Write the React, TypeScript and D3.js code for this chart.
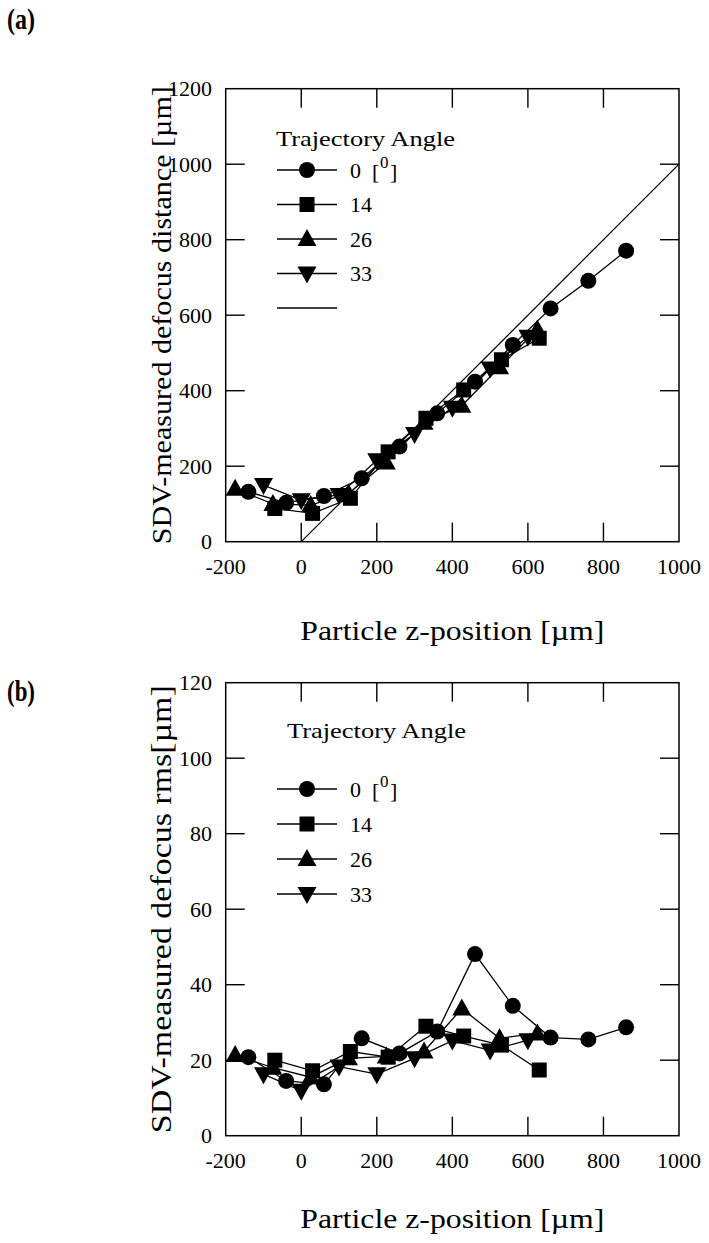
import React from 'react';
import * as d3 from 'd3';

// ---------- data ----------
const xTicks = [-200, 0, 200, 400, 600, 800, 1000];
const yTicksA = [0, 200, 400, 600, 800, 1000, 1200];
const yTicksB = [0, 20, 40, 60, 80, 100, 120];
const angleLabels = ['0', '14', '26', '33'];

// panel (a): SDV-measured defocus distance
const xA0 = [-140, -40, 60, 160, 260, 360, 460, 560, 660, 760, 860];
const yA0 = [132, 103, 121, 168, 252, 340, 424, 521, 618, 691, 771];
const xA14 = [-70, 30, 130, 230, 330, 430, 530, 630];
const yA14 = [88, 75, 115, 238, 327, 402, 482, 539];
const xA26 = [-175, -75, 25, 125, 225, 325, 425, 525, 625];
const yA26 = [140, 100, 97, 128, 210, 315, 360, 462, 562];
const xA33 = [-100, 0, 100, 200, 300, 400, 500, 600];
const yA33 = [150, 110, 124, 216, 285, 355, 459, 543];
const idealLine = [0, 1000];

// panel (b): SDV-measured defocus rms
const xB0 = [-140, -40, 60, 160, 260, 360, 460, 560, 660, 760, 860];
const yB0 = [20.8, 14.5, 13.6, 25.8, 21.8, 27.6, 48.1, 34.4, 26.0, 25.5, 28.7];
const xB14 = [-70, 30, 130, 230, 330, 430, 530, 630];
const yB14 = [20, 17.2, 22.3, 20.8, 29, 26.4, 24, 17.4];
const xB26 = [-175, -75, 25, 125, 225, 325, 425, 525, 625];
const yB26 = [21.4, 18, 15.5, 20.5, 21, 22.3, 33.7, 25.8, 27.1];
const xB33 = [-100, 0, 100, 200, 300, 400, 500, 600];
const yB33 = [16.3, 11.9, 18.3, 16.3, 20.5, 25.2, 22.6, 25.3];

const markerKinds = ['circle', 'square', 'up', 'down'];

const FONT = '"Liberation Serif", "Times New Roman", serif';
const W = 709;
const H = 1243;

const zip = (xs: number[], ys: number[]) => xs.map((x, i) => [x, ys[i]] as [number, number]);

function Marker({ kind, x, y }: { kind: string; x: number; y: number }) {
  if (kind === 'circle') return <circle cx={x} cy={y} r={8} fill="#000" />;
  if (kind === 'square') return <rect x={x - 7.5} y={y - 7.5} width={15} height={15} fill="#000" />;
  if (kind === 'up')
    return <path d={`M${x},${y - 10}L${x + 9.5},${y + 7}L${x - 9.5},${y + 7}Z`} fill="#000" />;
  return <path d={`M${x},${y + 10}L${x + 9.5},${y - 7}L${x - 9.5},${y - 7}Z`} fill="#000" />;
}

type PanelProps = {
  top: number;
  bottom: number;
  yDomain: [number, number];
  yTicks: number[];
  series: [number, number][][];
  yTitle: string;
  yTitleLen: number;
  yTitleSize: number;
  xTitleY: number;
  legendTitleY: number;
  legendRows: number[];
  legendX: number;
  showIdeal: boolean;
  panelLabel: string;
  panelLabelY: number;
};

const LEFT = 225.7;
const RIGHT = 679;

function Panel(p: PanelProps) {
  const x = d3.scaleLinear().domain([-200, 1000]).range([LEFT, RIGHT]);
  const y = d3.scaleLinear().domain(p.yDomain).range([p.bottom, p.top]);
  const line = d3
    .line<[number, number]>()
    .x((d) => x(d[0]))
    .y((d) => y(d[1]));
  const TL = 19;
  const xInner = xTicks.slice(1, -1);
  const yInner = p.yTicks.slice(1, -1);
  const cy = (p.top + p.bottom) / 2;
  return (
    <g>
      <text x={7} y={p.panelLabelY} fontFamily={FONT} fontWeight="bold" fontSize={30} textLength={28} lengthAdjust="spacingAndGlyphs">
        {p.panelLabel}
      </text>
      {/* ticks */}
      {xInner.map((t) => (
        <g key={'xt' + t}>
          <line x1={x(t)} x2={x(t)} y1={p.bottom} y2={p.bottom - TL} stroke="#000" strokeWidth={1.4} />
          <line x1={x(t)} x2={x(t)} y1={p.top} y2={p.top + TL} stroke="#000" strokeWidth={1.4} />
        </g>
      ))}
      {yInner.map((t) => (
        <g key={'yt' + t}>
          <line x1={LEFT} x2={LEFT + TL} y1={y(t)} y2={y(t)} stroke="#000" strokeWidth={1.4} />
          <line x1={RIGHT} x2={RIGHT - TL} y1={y(t)} y2={y(t)} stroke="#000" strokeWidth={1.4} />
        </g>
      ))}
      <rect x={LEFT} y={p.top} width={RIGHT - LEFT} height={p.bottom - p.top} fill="none" stroke="#000" strokeWidth={1.5} />
      {/* tick labels */}
      {xTicks.map((t) => (
        <text key={'xl' + t} x={x(t)} y={p.bottom + 32} textAnchor="middle" fontFamily={FONT} fontSize={22}>
          {t}
        </text>
      ))}
      {p.yTicks.map((t) => (
        <text key={'yl' + t} x={212} y={y(t) + 7.5} textAnchor="end" fontFamily={FONT} fontSize={22}>
          {t}
        </text>
      ))}
      {/* titles */}
      <text
        x={(LEFT + RIGHT) / 2}
        y={p.xTitleY}
        textAnchor="middle"
        fontFamily={FONT}
        fontSize={28}
        textLength={304}
        lengthAdjust="spacingAndGlyphs"
      >
        Particle z-position [µm]
      </text>
      <text
        transform={`translate(171,${cy}) rotate(-90)`}
        textAnchor="middle"
        fontFamily={FONT}
        fontSize={p.yTitleSize}
        textLength={p.yTitleLen}
        lengthAdjust="spacingAndGlyphs"
      >
        {p.yTitle}
      </text>
      {/* ideal line */}
      {p.showIdeal && (
        <path d={line(zip(idealLine, idealLine)) || ''} fill="none" stroke="#000" strokeWidth={1.2} />
      )}
      {/* series */}
      {p.series.map((s, i) => (
        <path key={'l' + i} d={line(s) || ''} fill="none" stroke="#000" strokeWidth={1.3} />
      ))}
      {p.series.map((s, i) =>
        s.map((d, j) => <Marker key={'m' + i + '-' + j} kind={markerKinds[i]} x={x(d[0])} y={y(d[1])} />)
      )}
      {/* legend */}
      <text x={p.legendX} y={p.legendTitleY} fontFamily={FONT} fontSize={22} textLength={179} lengthAdjust="spacingAndGlyphs">
        Trajectory Angle
      </text>
      {angleLabels.map((lab, i) => {
        const ry = p.legendRows[i];
        return (
          <g key={'lg' + i}>
            <line x1={277} x2={337} y1={ry} y2={ry} stroke="#000" strokeWidth={1.3} />
            <Marker kind={markerKinds[i]} x={307} y={ry} />
            {i === 0 ? (
              <g fontFamily={FONT} fontSize={22}>
                <text x={350} y={ry + 7.5}>0</text>
                <text x={372} y={ry + 9}>[</text>
                <text x={380} y={ry - 2} fontSize={17}>0</text>
                <text x={390} y={ry + 9}>]</text>
              </g>
            ) : (
              <text x={350} y={ry + 7.5} fontFamily={FONT} fontSize={22}>
                {lab}
              </text>
            )}
          </g>
        );
      })}
      {p.showIdeal && (
        <line x1={277} x2={337} y1={p.legendRows[4]} y2={p.legendRows[4]} stroke="#000" strokeWidth={1.3} />
      )}
    </g>
  );
}

export default function App() {
  const seriesA = [zip(xA0, yA0), zip(xA14, yA14), zip(xA26, yA26), zip(xA33, yA33)];
  const seriesB = [zip(xB0, yB0), zip(xB14, yB14), zip(xB26, yB26), zip(xB33, yB33)];
  return (
    <svg width={W} height={H} style={{ position: 'absolute', left: 0, top: 0, background: '#fff' }}>
      <rect width={W} height={H} fill="#fff" />
      <Panel
        top={88.7}
        bottom={541.7}
        yDomain={[0, 1200]}
        yTicks={yTicksA}
        series={seriesA}
        yTitle="SDV-measured defocus distance [µm]"
        yTitleLen={458}
        yTitleSize={28}
        xTitleY={640}
        legendTitleY={146}
        legendRows={[170, 204.5, 239, 273.5, 308]}
        legendX={276}
        showIdeal={true}
        panelLabel="(a)"
        panelLabelY={29}
      />
      <Panel
        top={682.7}
        bottom={1135.7}
        yDomain={[0, 120]}
        yTicks={yTicksB}
        series={seriesB}
        yTitle="SDV-measured defocus rms[µm]"
        yTitleLen={448}
        yTitleSize={29}
        xTitleY={1228}
        legendTitleY={738}
        legendRows={[789, 824, 859, 894]}
        legendX={287}
        showIdeal={false}
        panelLabel="(b)"
        panelLabelY={701}
      />
    </svg>
  );
}
